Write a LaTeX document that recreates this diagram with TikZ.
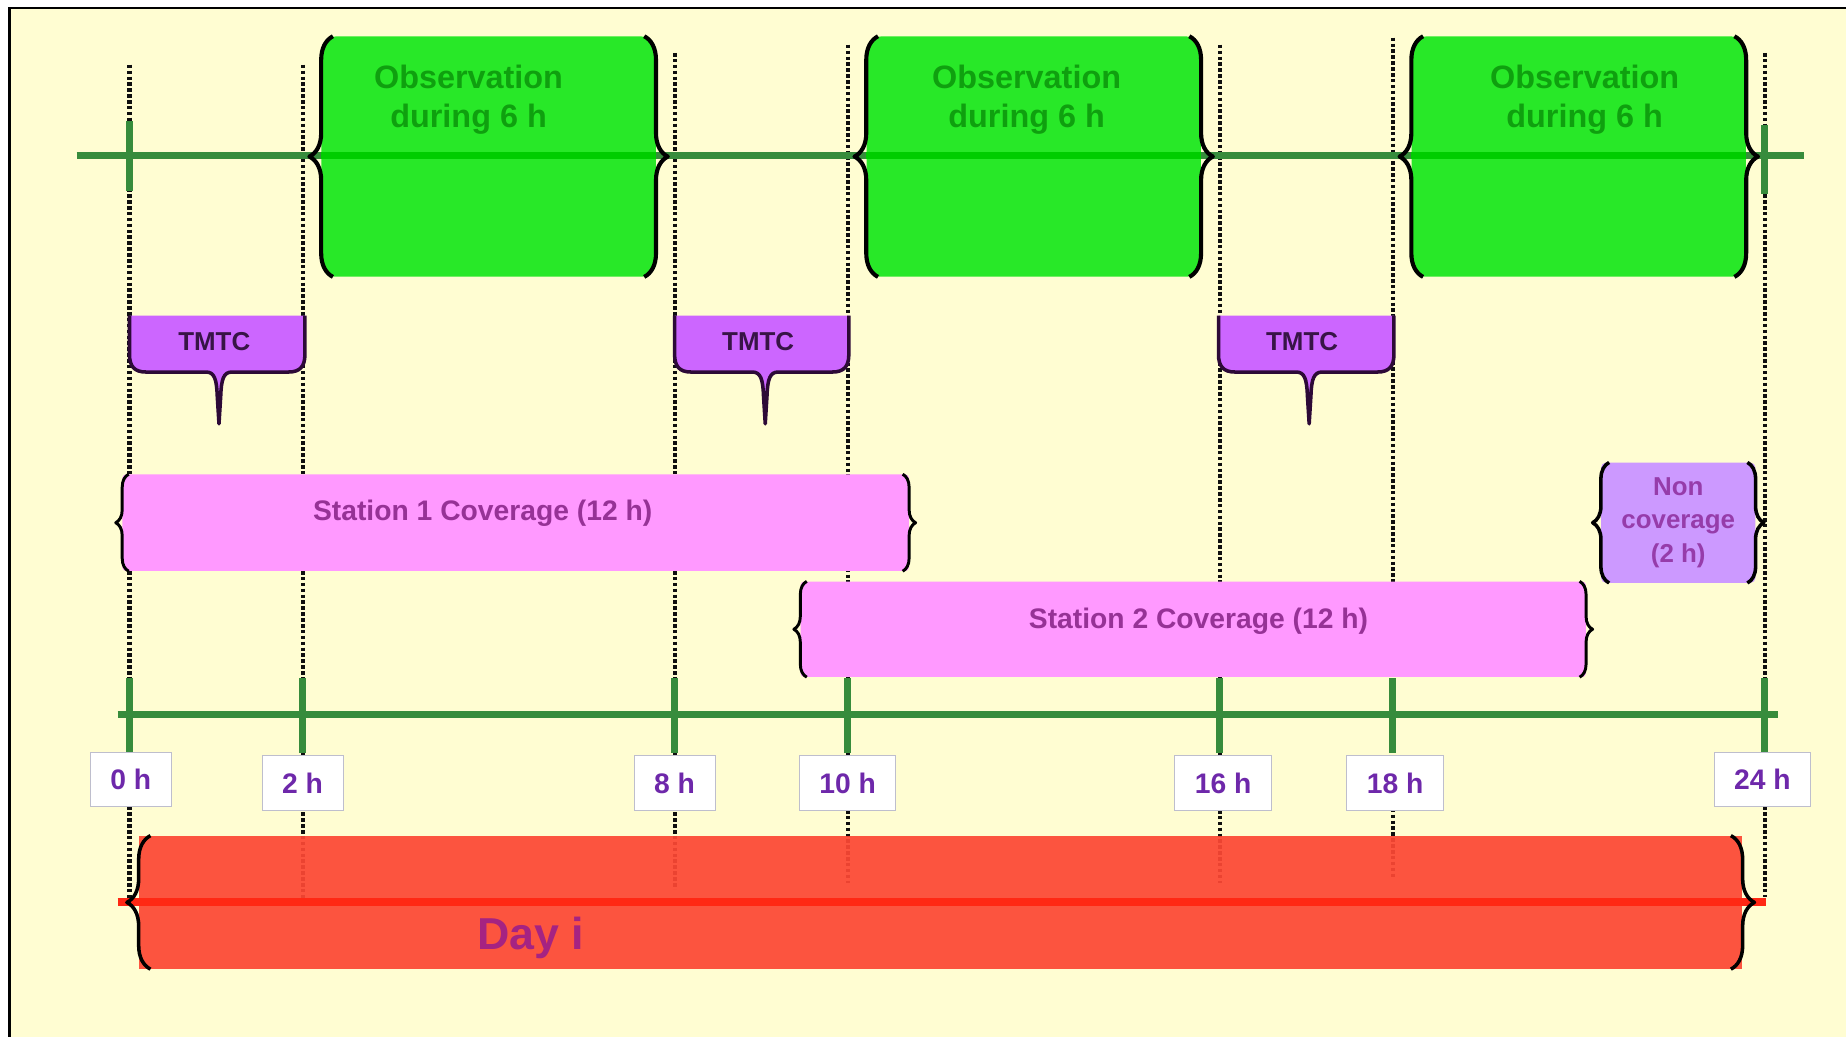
\documentclass[tikz,border=0pt]{standalone}
\usepackage{fontspec}
\setmainfont{Liberation Sans}
\usetikzlibrary{decorations.pathreplacing,calc}
\definecolor{bgy}{RGB}{255,253,210}
\definecolor{axg}{RGB}{55,140,60}
\definecolor{obsg}{RGB}{40,232,40}
\definecolor{obsstripe}{RGB}{0,205,0}
\definecolor{obst}{RGB}{15,160,15}
\definecolor{tmtcf}{RGB}{204,102,255}
\definecolor{tmtcl}{RGB}{45,10,55}
\definecolor{tmtct}{RGB}{55,20,70}
\definecolor{pinkf}{RGB}{255,153,255}
\definecolor{pinkt}{RGB}{150,50,150}
\definecolor{ncf}{RGB}{204,153,255}
\definecolor{nct}{RGB}{150,60,170}
\definecolor{labt}{RGB}{110,40,170}
\definecolor{labb}{RGB}{190,190,205}
\definecolor{dayf}{RGB}{252,72,52}
\definecolor{dayax}{RGB}{255,40,20}
\definecolor{dayt}{RGB}{165,35,130}
\definecolor{dotc}{RGB}{15,15,15}
\newcommand{\tmtcshape}[3]{%
  \path[fill=tmtcf, draw=tmtcl, line width=3pt, line join=round]
    (#1,268) -- (#1,301) .. controls (#1,311) and (#1+4,316) .. (#1+14,316)
    -- (#3-11,316) .. controls (#3-4,316) and (#3-2,322) .. (#3-1.5,336)
    -- (#3,360) -- (#3+1.5,336) .. controls (#3+2,322) and (#3+4,316) .. (#3+11,316)
    -- (#2-14,316) .. controls (#2-4,316) and (#2,311) .. (#2,301) -- (#2,268);}
\newcommand{\bracebox}[3]{%
  \draw[brc={#2pt}{#3pt}] ($(#1.south west)+(#2/2,0)$) -- ($(#1.north west)+(#2/2,0)$);
  \draw[brc={#2pt}{#3pt}] ($(#1.north east)+(-#2/2,0)$) -- ($(#1.south east)+(-#2/2,0)$);}
\begin{document}
\begin{tikzpicture}[x=1pt,y=-1pt,
  brc/.style 2 args={decorate, decoration={brace, amplitude=#1}, line width=#2, draw=black, line join=round},
  dotl/.style={line width=3.5pt, draw=dotc, dash pattern=on 3pt off 2pt},
  axisl/.style={line width=6pt, draw=axg},
  tickl/.style={line width=6pt, draw=axg},
  obsbox/.style={fill=obsg, rounded corners=12pt, minimum width=284pt, minimum height=204pt, inner sep=0pt},
  obstxt/.style={text=obst, font=\fontsize{27.5}{33}\selectfont\bfseries, align=center},
  tmtctxt/.style={text=tmtct, font=\fontsize{22}{26}\selectfont\bfseries},
  stbox/.style={fill=pinkf, rounded corners=3pt, inner sep=0pt},
  sttxt/.style={text=pinkt, font=\fontsize{24}{28}\selectfont\bfseries},
  ncbox/.style={fill=ncf, rounded corners=4pt, inner sep=0pt, minimum width=131pt, minimum height=102pt,
     text=nct, font=\fontsize{22}{28.5}\selectfont\bfseries, align=center},
  lab/.style={fill=white, draw=labb, line width=0.8pt, text=labt, inner xsep=17pt, inner ysep=0pt,
     minimum height=46pt, font=\fontsize{24}{28}\selectfont\bfseries},
  daybox/.style={fill=dayf, fill opacity=0.93, minimum width=1362pt, minimum height=113pt, inner sep=0pt},
  daytxt/.style={text=dayt, font=\fontsize{38}{44}\selectfont\bfseries}
]
\useasboundingbox (0,0) rectangle (1568,880);
\clip (0,0) rectangle (1568,880);
\fill[white] (0,0) rectangle (1568,880);
\draw[line width=2pt, fill=bgy] (8,7) rectangle (1600,920);

% dotted time guides
\foreach \n/\x/\t/\b in {0/110/55/765, 2/257/55/765, 8/573/45/755, 10/720/38/750, 16/1036/38/750, 18/1183/32/745, 24/1499/45/762} {
  \coordinate (dt\n) at (\x,\t);
  \coordinate (db\n) at (\x,\b);
  \coordinate (tk\n) at (\x,607);
  \draw[dotl] (dt\n) -- (db\n);
}

% top axis
\coordinate (ta1) at (65,132);
\coordinate (ta2) at (1532,132);
\draw[axisl] (ta1) -- (ta2);
\coordinate (tt0a) at (110,103); \coordinate (tt0b) at (110,162);
\coordinate (tt24a) at (1499,106); \coordinate (tt24b) at (1499,165);
\draw[tickl] (tt0a) -- (tt0b);
\draw[tickl] (tt24a) -- (tt24b);

% observation boxes
\foreach \i/\x/\tx in {1/415/398,2/878/872,3/1341/1346} {
  \node[obsbox] (obs\i) at (\x,133) {};
  \draw[line width=6pt, draw=obsstripe] (obs\i.west |- ta1) -- (obs\i.east |- ta1);
  \node[obstxt] (obstx\i) at (\tx,85) {Observation\\during 6 h};
  \bracebox{obs\i}{20}{3.5}
}

% TMTC
\tmtcshape{110}{259}{186}
\tmtcshape{573}{721}{650}
\tmtcshape{1035}{1184}{1112}
\node[tmtctxt] (tm1) at (182,290) {TMTC};
\node[tmtctxt] (tm2) at (644,290) {TMTC};
\node[tmtctxt] (tm3) at (1106,290) {TMTC};

% station coverage
\node[stbox, minimum width=668pt, minimum height=82pt] (st1) at (438,444) {};
\node[sttxt] (st1t) at (410,436) {Station 1 Coverage (12 h)};
\bracebox{st1}{11}{2.5}
\node[stbox, minimum width=667pt, minimum height=81pt] (st2) at (1013.5,534.5) {};
\node[sttxt] (st2t) at (1018,528) {Station 2 Coverage (12 h)};
\bracebox{st2}{11}{2.5}
\node[ncbox] (nc) at (1425.5,444) {Non\\coverage\\(2 h)};
\bracebox{nc}{14}{3}

% bottom axis
\coordinate (ba1) at (100,607);
\coordinate (ba2) at (1510,607);
\draw[axisl] (ba1) -- (ba2);
\foreach \n in {0,2,8,10,16,18,24} {
  \draw[tickl] ($(tk\n)+(0,-31)$) -- ($(tk\n)+(0,33)$);
}
\foreach \n/\x/\y in {0/111/662, 2/257/665, 8/573/665, 10/720/665, 16/1039/665, 18/1185/665, 24/1497/662} {
  \node[lab] (lab\n) at (\x,\y) {\n\ h};
}

% day box
\node[daybox] (day) at (799,766.5) {};
\coordinate (da1) at (100,766);
\coordinate (da2) at (1500,766);
\draw[line width=7pt, draw=dayax] (da1) -- (da2);
\bracebox{day}{20}{3}
\node[daytxt] (dayt) at (451,797) {Day i};
\end{tikzpicture}
\end{document}
